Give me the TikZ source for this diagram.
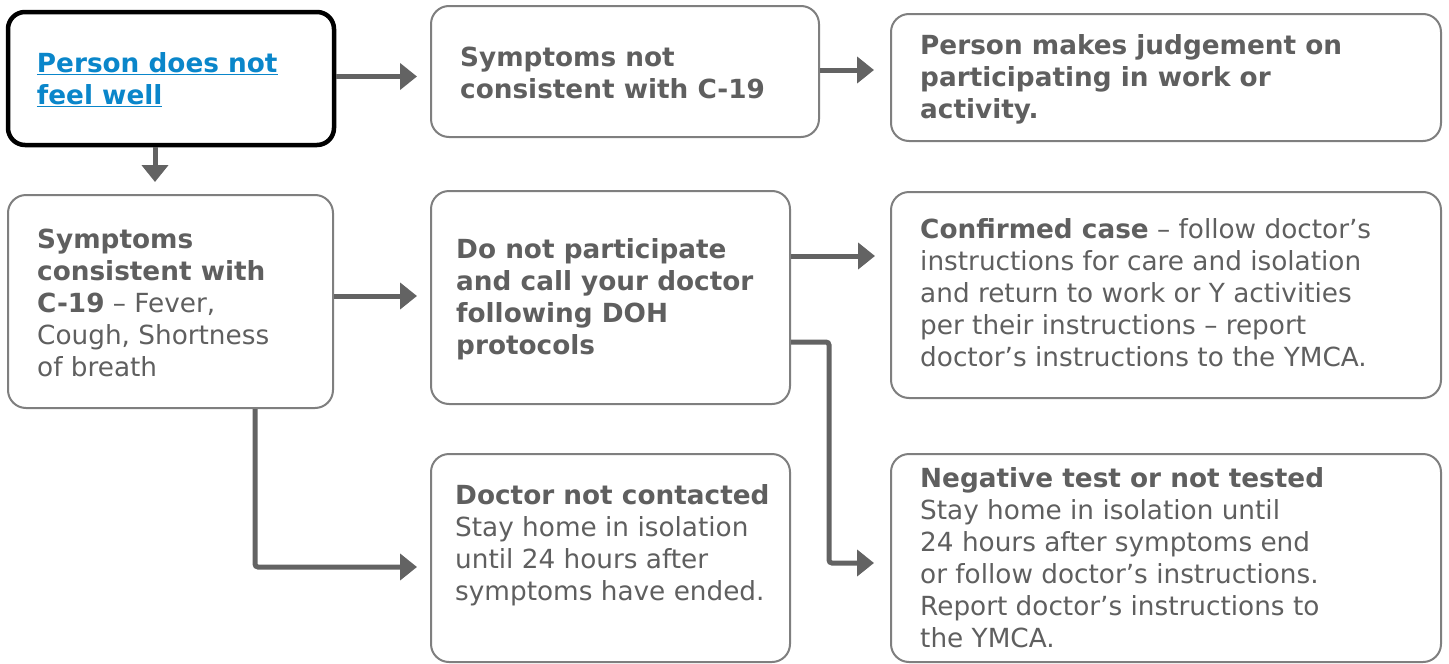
\documentclass[tikz,border=0pt]{standalone}
\usepackage{fontspec}
\setmainfont{DejaVu Sans}
\usetikzlibrary{arrows.meta,calc}
\definecolor{txtgray}{HTML}{5F5F5F}
\definecolor{boxgray}{HTML}{7F7F7F}
\definecolor{arrgray}{HTML}{636363}
\definecolor{linkblue}{HTML}{0A86CA}
\newcommand{\fsz}{\fontsize{26.3}{32}\selectfont}
\tikzset{
  box/.style={draw=boxgray, line width=2pt, rounded corners=18pt, fill=white, inner sep=0pt},
  startbox/.style={draw=black, line width=4.5pt, rounded corners=17pt, fill=white, inner sep=0pt},
  txt/.style={anchor=west, align=left, inner sep=0pt, text=txtgray, font=\fsz},
  btxt/.style={txt, font=\fsz\bfseries},
  arr/.style={draw=arrgray, line width=5pt, -{Triangle[length=17pt,width=26pt]}, rounded corners=3pt}
}
\begin{document}
\begin{tikzpicture}[x=1pt,y=-1pt]
\useasboundingbox (0,0) rectangle (1449,664);
% boxes
\node[startbox, minimum width=326pt, minimum height=133pt] (a) at (171,78.5) {};
\node[box, minimum width=388pt, minimum height=131pt] (b) at (625,71.5) {};
\node[box, minimum width=550pt, minimum height=127pt] (c) at (1166,77.5) {};
\node[box, minimum width=325pt, minimum height=213pt] (d) at (170.5,301.5) {};
\node[box, minimum width=359pt, minimum height=213pt] (e) at (610.5,297.5) {};
\node[box, minimum width=550pt, minimum height=206pt] (f) at (1166,295) {};
\node[box, minimum width=359pt, minimum height=208pt] (g) at (610.5,558) {};
\node[box, minimum width=550pt, minimum height=208pt] (h) at (1166,558) {};
% texts
\node[btxt, text=linkblue] (ta) at ($(a.west)+(31,1)$) {\underline{Person does not}\\\underline{feel well}};
\node[btxt] (tb) at ($(b.west)+(30,1.5)$) {Symptoms not\\consistent with C-19};
\node[btxt] (tc) at ($(c.west)+(30,1.5)$) {Person makes judgement on\\participating in work or\\activity.};
\node[txt] (td) at ($(d.west)+(30,1)$) {\textbf{Symptoms}\\\textbf{consistent with}\\\textbf{C-19} – Fever,\\Cough, Shortness\\of breath};
\node[btxt] (te) at ($(e.west)+(26,1.5)$) {Do not participate\\and call your doctor\\following DOH\\protocols};
\node[txt] (tf) at ($(f.west)+(30,-2)$) {\textbf{Confirmed case} – follow doctor’s\\instructions for care and isolation\\and return to work or Y activities\\per their instructions – report\\doctor’s instructions to the YMCA.};
\node[txt] (tg) at ($(g.west)+(25,-13)$) {\textbf{Doctor not contacted}\\Stay home in isolation\\until 24 hours after\\symptoms have ended.};
\node[txt] (th) at ($(h.west)+(30,0)$) {\textbf{Negative test or not tested}\\Stay home in isolation until\\24 hours after symptoms end\\or follow doctor’s instructions.\\Report doctor’s instructions to\\the YMCA.};
% connectors
\draw[arr, shorten >=13pt] ([yshift=2pt]a.east) -- ([yshift=2pt]a.east -| b.west);
\draw[arr, shorten >=12pt] ([xshift=-16pt]a.south) -- ([xshift=-16pt]a.south |- d.north);
\draw[arr, shorten >=16pt] ([yshift=1.5pt]b.east) -- ([yshift=1.5pt]b.east -| c.west);
\draw[arr, shorten >=13pt] ([yshift=5.5pt]d.east) -- ([yshift=5.5pt]d.east -| e.west);
\draw[arr, shorten >=15pt] ([yshift=41.5pt]e.east) -- ([yshift=41.5pt]e.east -| f.west);
\draw[arr, shorten >=13pt] ([xshift=84.5pt]d.south) |- ([yshift=-9pt]g.west);
\draw[arr, shorten >=16pt] ([yshift=-44.5pt]e.east) -- ++(38,0) |- ([yshift=-5pt]h.west);
\end{tikzpicture}
\end{document}
